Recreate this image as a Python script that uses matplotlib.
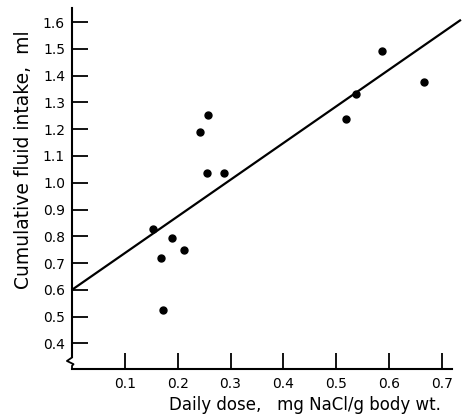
import matplotlib
matplotlib.use("Agg")
import matplotlib.pyplot as plt
import matplotlib.transforms as mtransforms
import numpy as np

dose = [0.154, 0.190, 0.169, 0.211, 0.172, 0.242, 0.258, 0.256, 0.287,
        0.518, 0.538, 0.586, 0.666]
intake = [0.826, 0.795, 0.718, 0.749, 0.524, 1.191, 1.252, 1.035, 1.038,
          1.239, 1.333, 1.492, 1.378]
fit_x = [0.0, 0.736]
fit_y = [0.60, 1.609]
xticks = [0.1, 0.2, 0.3, 0.4, 0.5, 0.6, 0.7]
xticklabels = ["0.1", "0.2", "0.3", "0.4", "0.5", "0.6", "0.7"]
yticks = [0.4, 0.5, 0.6, 0.7, 0.8, 0.9, 1.0, 1.1, 1.2, 1.3, 1.4, 1.5, 1.6]
yticklabels = ["0.4", "0.5", "0.6", "0.7", "0.8", "0.9", "1.0", "1.1", "1.2",
               "1.3", "1.4", "1.5", "1.6"]

plt.rcParams['font.family'] = ['DejaVu Sans']

fig = plt.figure(figsize=(4.65, 4.15), dpi=100)
ax = fig.add_axes([72 / 465, 46 / 415, (462 - 72) / 465, (369 - 8) / 415])

ax.plot(fit_x, fit_y, color='black', lw=1.6, solid_capstyle='butt', zorder=2)
ax.plot(dose, intake, 'o', color='black', markersize=5, zorder=3)

ax.set_xlim(0, 0.738)
ax.set_ylim(0.304, 1.653)

for s in ['top', 'right']:
    ax.spines[s].set_visible(False)
ax.spines['left'].set_linewidth(1.5)
ax.spines['bottom'].set_linewidth(1.5)
ax.spines['left'].set_bounds(0.35, 1.653)
ax.spines['bottom'].set_bounds(0, 0.72)

# axis break mark
trans = mtransforms.blended_transform_factory(ax.transAxes, ax.transData)
bx = [0, 0, -0.013, 0.004, 0, 0]
by = [0.35, 0.347, 0.334, 0.322, 0.316, 0.304]
ax.plot(bx, by, color='black', lw=1.3, transform=trans, clip_on=False)

ax.set_xticks(xticks)
ax.set_xticklabels(xticklabels)
ax.set_yticks(yticks)
ax.set_yticklabels(yticklabels)
ax.tick_params(axis='both', direction='in', length=11.5, width=1.3,
               labelsize=10, colors='black')
ax.tick_params(axis='x', pad=6)
ax.tick_params(axis='y', pad=5)

ax.set_xlabel("Daily dose,   mg NaCl/g body wt.", fontsize=12)
ax.xaxis.set_label_coords(0.597, -0.075)
ax.set_ylabel("Cumulative fluid intake,  ml", fontsize=13.5)
ax.yaxis.set_label_coords(-0.10, 0.579)

fig.savefig("out.png", dpi=100)
